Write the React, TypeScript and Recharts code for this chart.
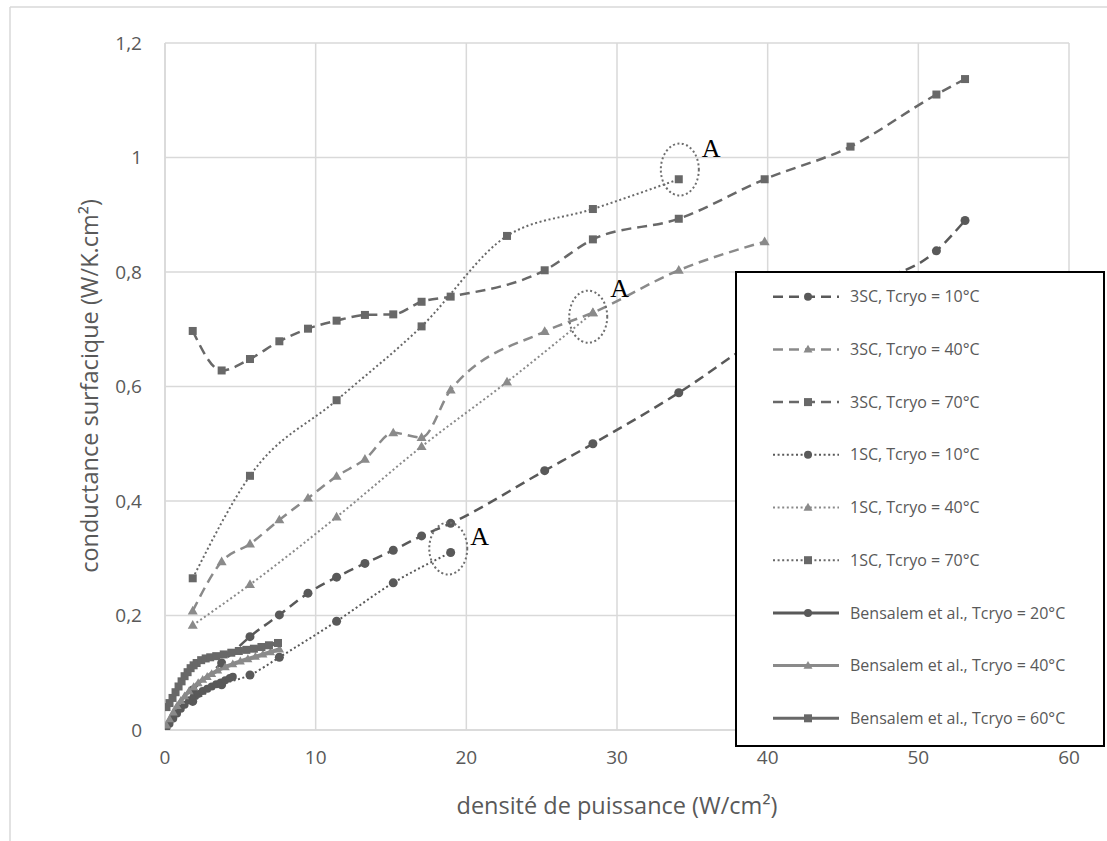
import React from 'react';
import { LineChart, Line, XAxis, YAxis, CartesianGrid, ReferenceDot, Label } from 'recharts';

// ---------- data ----------
const xTicks = [0, 10, 20, 30, 40, 50, 60];
const yTicks = [0, 0.2, 0.4, 0.6, 0.8, 1, 1.2];

const x3SC = [1.84, 3.76, 5.64, 7.59, 9.49, 11.39, 13.27, 15.15, 17.03, 18.96, 25.2, 28.4, 34.1, 39.8, 45.5, 51.2, 53.1];
const y3SC10 = [0.07, 0.117, 0.163, 0.201, 0.239, 0.267, 0.291, 0.314, 0.339, 0.361, 0.453, 0.5, 0.589, 0.69, 0.77, 0.837, 0.89];
const x3SC40 = [1.84, 3.76, 5.64, 7.59, 9.49, 11.39, 13.27, 15.15, 17.03, 18.96, 25.2, 28.4, 34.1, 39.8];
const y3SC40 = [0.208, 0.294, 0.325, 0.367, 0.405, 0.443, 0.473, 0.519, 0.511, 0.594, 0.696, 0.729, 0.803, 0.853];
const y3SC70 = [0.697, 0.628, 0.648, 0.679, 0.701, 0.715, 0.725, 0.726, 0.748, 0.757, 0.803, 0.857, 0.893, 0.962, 1.019, 1.11, 1.137];

const x1SC10 = [1.84, 3.76, 5.64, 7.59, 11.39, 15.15, 18.96];
const y1SC10 = [0.05, 0.079, 0.096, 0.127, 0.19, 0.257, 0.31];
const x1SC40 = [1.84, 5.64, 11.39, 17.03, 22.7, 28.4];
const y1SC40 = [0.183, 0.254, 0.372, 0.495, 0.608, 0.729];
const x1SC70 = [1.84, 5.64, 11.39, 17.03, 22.7, 28.4, 34.1];
const y1SC70 = [0.265, 0.444, 0.576, 0.705, 0.863, 0.91, 0.962];

const xB20 = [0.1, 0.3, 0.55, 0.8, 1.05, 1.3, 1.6, 1.9, 2.2, 2.5, 2.8, 3.1, 3.4, 3.7, 4.0, 4.3, 4.5];
const yB20 = [0.004, 0.011, 0.02, 0.029, 0.037, 0.044, 0.052, 0.058, 0.063, 0.068, 0.072, 0.076, 0.08, 0.083, 0.087, 0.091, 0.093];
const xB40 = [0.1, 0.3, 0.55, 0.8, 1.05, 1.3, 1.6, 1.9, 2.2, 2.5, 2.8, 3.1, 3.5, 4.0, 4.5, 5.0, 5.5, 6.0, 6.5, 7.0, 7.6];
const yB40 = [0.008, 0.019, 0.031, 0.042, 0.051, 0.059, 0.068, 0.075, 0.082, 0.088, 0.093, 0.098, 0.104, 0.11, 0.115, 0.12, 0.124, 0.128, 0.132, 0.136, 0.141];
const xB60 = [0.1, 0.3, 0.5, 0.7, 0.9, 1.1, 1.3, 1.5, 1.7, 1.9, 2.1, 2.4, 2.7, 3.0, 3.4, 3.9, 4.4, 4.9, 5.4, 5.9, 6.4, 6.9, 7.5];
const yB60 = [0.04, 0.047, 0.056, 0.066, 0.076, 0.085, 0.094, 0.101, 0.108, 0.113, 0.117, 0.122, 0.125, 0.127, 0.129, 0.132, 0.135, 0.138, 0.14, 0.142, 0.145, 0.148, 0.152];

const annX = [34.17, 28.09, 18.8];
const annY = [0.979, 0.722, 0.317];
const annText = ['A', 'A', 'A'];

const zip = (xs: number[], ys: number[]) => xs.map((x, i) => ({ x, y: ys[i] }));

// ---------- styles ----------
const C_DARK = '#595959';
const C_MID = '#686868';
const C_LIGHT = '#8a8a8a';
const DASH = '10 6';
const DOT = '2 2.6';
const annDy = [-13, -20, -4];

type Shape = 'circle' | 'triangle' | 'square';
interface SeriesDef {
  name: string;
  data: { x: number; y: number }[];
  color: string;
  dash?: string;
  width: number;
  shape: Shape;
  size: number;
  legendSize: number;
}

const series: SeriesDef[] = [
  { name: '3SC, Tcryo = 10°C', data: zip(x3SC, y3SC10), color: C_DARK, dash: DASH, width: 2.5, shape: 'circle', size: 9, legendSize: 8 },
  { name: '3SC, Tcryo = 40°C', data: zip(x3SC40, y3SC40), color: C_LIGHT, dash: DASH, width: 2.5, shape: 'triangle', size: 10, legendSize: 9 },
  { name: '3SC, Tcryo = 70°C', data: zip(x3SC, y3SC70), color: C_MID, dash: DASH, width: 2.5, shape: 'square', size: 8, legendSize: 8 },
  { name: '1SC, Tcryo = 10°C', data: zip(x1SC10, y1SC10), color: C_DARK, dash: DOT, width: 2, shape: 'circle', size: 9, legendSize: 8 },
  { name: '1SC, Tcryo = 40°C', data: zip(x1SC40, y1SC40), color: C_LIGHT, dash: DOT, width: 2, shape: 'triangle', size: 10, legendSize: 9 },
  { name: '1SC, Tcryo = 70°C', data: zip(x1SC70, y1SC70), color: C_MID, dash: DOT, width: 2, shape: 'square', size: 8, legendSize: 8 },
  { name: 'Bensalem et al., Tcryo = 20°C', data: zip(xB20, yB20), color: C_DARK, width: 4, shape: 'circle', size: 8, legendSize: 8 },
  { name: 'Bensalem et al., Tcryo = 40°C', data: zip(xB40, yB40), color: C_LIGHT, width: 4, shape: 'triangle', size: 9, legendSize: 9 },
  { name: 'Bensalem et al., Tcryo = 60°C', data: zip(xB60, yB60), color: C_MID, width: 4, shape: 'square', size: 8, legendSize: 8 },
];

function Marker({ shape, cx, cy, size, color }: { shape: Shape; cx: number; cy: number; size: number; color: string }) {
  if (shape === 'circle') return <circle cx={cx} cy={cy} r={size / 2} fill={color} />;
  if (shape === 'square') return <rect x={cx - size / 2} y={cy - size / 2} width={size} height={size} fill={color} />;
  const h = size * 0.87;
  return (
    <polygon
      points={`${cx},${cy - h * 0.6} ${cx - size / 2},${cy + h * 0.4} ${cx + size / 2},${cy + h * 0.4}`}
      fill={color}
    />
  );
}

const fmtY = (v: number) => String(v).replace('.', ',');
const AXIS_TEXT = '#595959';
const FONT = "'Open Sans', sans-serif";

function Legend() {
  const rowH = 52.7;
  return (
    <div
      style={{
        position: 'absolute',
        left: 735,
        top: 271,
        width: 370,
        height: 476,
        border: '2px solid #000',
        boxSizing: 'border-box',
        background: '#fff',
      }}
    >
      <svg width={366} height={472} style={{ position: 'absolute', left: 0, top: 0 }}>
        {series.map((s, i) => {
          const cy = 23.7 + rowH * i;
          return (
            <g key={s.name}>
              <line x1={36} x2={102} y1={cy} y2={cy} stroke={s.color} strokeWidth={Math.min(s.width, 3)} strokeDasharray={s.dash} />
              <Marker shape={s.shape} cx={71} cy={cy} size={s.legendSize} color={s.color} />
              <text x={113} y={cy} dy="0.35em" fontFamily={FONT} fontSize={16} fill={AXIS_TEXT}>
                {s.name}
              </text>
            </g>
          );
        })}
      </svg>
    </div>
  );
}

export default function App() {
  return (
    <div style={{ position: 'absolute', left: 0, top: 0, width: 1107, height: 841, background: '#fff', overflow: 'hidden' }}>
      <svg width={1107} height={841} style={{ position: 'absolute', left: 0, top: 0 }}>
        <line x1={10} y1={7} x2={1107} y2={7} stroke="#d9d9d9" strokeWidth={1.5} />
        <line x1={10} y1={7} x2={10} y2={841} stroke="#d9d9d9" strokeWidth={1.5} />
      </svg>
      <div style={{ position: 'absolute', left: 0, top: 0 }}>
        <LineChart width={1107} height={841} margin={{ top: 43, right: 38, left: 0, bottom: 0 }}>
          <CartesianGrid stroke="#d9d9d9" strokeWidth={1.5} />
          <XAxis
            type="number"
            dataKey="x"
            domain={[0, 60]}
            ticks={xTicks}
            height={111}
            tickSize={0}
            tickMargin={21}
            axisLine={{ stroke: '#d9d9d9', strokeWidth: 1.5 }}
            tick={{ fill: AXIS_TEXT, fontSize: 19, fontFamily: FONT }}
            allowDataOverflow
          >
            <Label
              content={() => (
                <text x={617} y={806} dy="0.35em" textAnchor="middle" fontFamily={FONT} fontSize={23.5} fill={AXIS_TEXT}>
                  densité de puissance (W/cm²)
                </text>
              )}
            />
          </XAxis>
          <YAxis
            type="number"
            dataKey="y"
            domain={[0, 1.2]}
            ticks={yTicks}
            width={165}
            tickSize={0}
            tickMargin={23}
            tickFormatter={fmtY}
            axisLine={{ stroke: '#d9d9d9', strokeWidth: 1.5 }}
            tick={{ fill: AXIS_TEXT, fontSize: 19, fontFamily: FONT }}
            allowDataOverflow
          >
            <Label
              content={() => (
                <text
                  x={90}
                  y={386}
                  dy="0.35em"
                  textAnchor="middle"
                  transform="rotate(-90 90 386)"
                  fontFamily={FONT}
                  fontSize={23.5}
                  fill={AXIS_TEXT}
                >
                  conductance surfacique (W/K.cm²)
                </text>
              )}
            />
          </YAxis>
          {series.map((s) => (
            <Line
              key={s.name}
              data={s.data}
              dataKey="y"
              name={s.name}
              type="monotone"
              stroke={s.color}
              strokeWidth={s.width}
              strokeDasharray={s.dash}
              isAnimationActive={false}
              activeDot={false}
              dot={(p: any) => (
                <Marker key={`${s.name}-${p.index}`} shape={s.shape} cx={p.cx} cy={p.cy} size={s.size} color={s.color} />
              )}
            />
          ))}
          {annX.map((ax, i) => (
            <ReferenceDot
              key={`ann-${i}`}
              x={ax}
              y={annY[i]}
              r={1}
              ifOverflow="visible"
              shape={(p: any) => (
                <g>
                  <ellipse cx={p.cx} cy={p.cy} rx={19} ry={26} fill="none" stroke="#6e6e6e" strokeWidth={2} strokeDasharray="2 2.5" />
                  <text x={p.cx + 22} y={p.cy + annDy[i]} fontFamily="'Liberation Serif', serif" fontSize={26} fill="#000">
                    {annText[i]}
                  </text>
                </g>
              )}
            />
          ))}
        </LineChart>
      </div>
      <Legend />
    </div>
  );
}
